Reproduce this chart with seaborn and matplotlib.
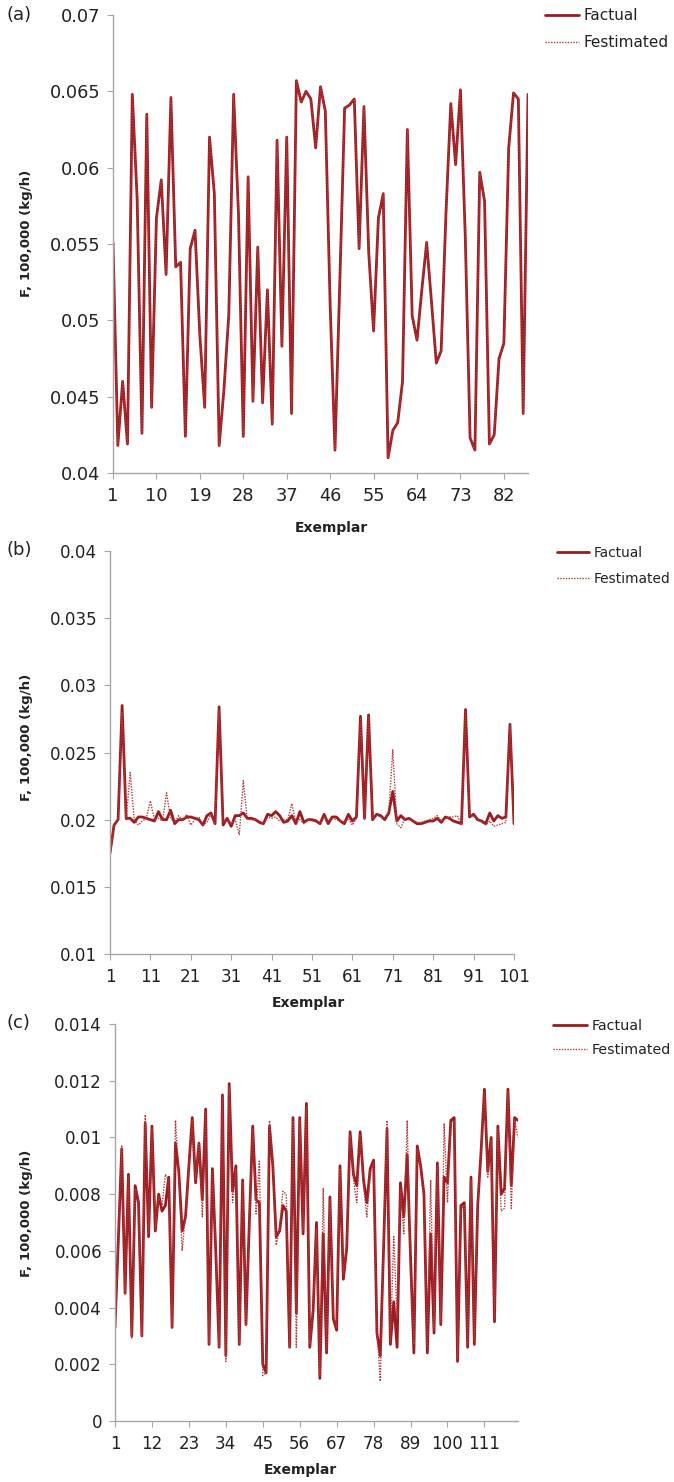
import numpy as np
import pandas as pd
import matplotlib
matplotlib.use("Agg")
import matplotlib.pyplot as plt
import seaborn as sns

sns.set_style("ticks")
plt.rcParams["font.family"] = ["DejaVu Sans"]

# ---------------- data ----------------
a_factual = [0.0551, 0.0418, 0.0460, 0.0419, 0.0648, 0.0580, 0.0426, 0.0635, 0.0443, 0.0567,
             0.0592, 0.0530, 0.0646, 0.0535, 0.0538, 0.0424, 0.0547, 0.0559, 0.0490, 0.0443,
             0.0620, 0.0583, 0.0418, 0.0455, 0.0504, 0.0648, 0.0570, 0.0424, 0.0594, 0.0447,
             0.0548, 0.0446, 0.0520, 0.0432, 0.0618, 0.0483, 0.0620, 0.0439, 0.0657, 0.0643,
             0.0650, 0.0645, 0.0613, 0.0653, 0.0637, 0.0510, 0.0415, 0.0525, 0.0639, 0.0641,
             0.0645, 0.0547, 0.0640, 0.0544, 0.0493, 0.0567, 0.0583, 0.0410, 0.0428, 0.0433,
             0.0460, 0.0625, 0.0503, 0.0487, 0.0520, 0.0551, 0.0512, 0.0472, 0.0480, 0.0570,
             0.0642, 0.0602, 0.0651, 0.0555, 0.0423, 0.0415, 0.0597, 0.0578, 0.0419, 0.0425,
             0.0475, 0.0485, 0.0613, 0.0649, 0.0645, 0.0439, 0.0648]
# in panel (a) the estimated curve lies exactly under the actual one
a_estimated = list(a_factual)
a_xticks = [1, 10, 19, 28, 37, 46, 55, 64, 73, 82]
a_yticks = [0.04, 0.045, 0.05, 0.055, 0.06, 0.065, 0.07]

b_factual = [0.0175, 0.0196, 0.0200, 0.0285, 0.0201, 0.0201, 0.0198, 0.0202, 0.0202, 0.0201,
             0.0200, 0.0199, 0.0206, 0.0200, 0.0200, 0.0207, 0.0197, 0.0200, 0.0200, 0.0202,
             0.0202, 0.0201, 0.0200, 0.0196, 0.0203, 0.0205, 0.0197, 0.0284, 0.0196, 0.0201,
             0.0195, 0.0203, 0.0203, 0.0205, 0.0201, 0.0201, 0.0200, 0.0198, 0.0197, 0.0204,
             0.0203, 0.0206, 0.0203, 0.0198, 0.0199, 0.0203, 0.0197, 0.0206, 0.0198, 0.0200,
             0.0200, 0.0199, 0.0197, 0.0204, 0.0197, 0.0202, 0.0202, 0.0199, 0.0197, 0.0204,
             0.0199, 0.0202, 0.0277, 0.0201, 0.0278, 0.0200, 0.0204, 0.0203, 0.0200, 0.0205,
             0.0221, 0.0199, 0.0203, 0.0200, 0.0201, 0.0199, 0.0197, 0.0197, 0.0198, 0.0199,
             0.0199, 0.0201, 0.0198, 0.0202, 0.0201, 0.0199, 0.0198, 0.0197, 0.0282, 0.0202,
             0.0204, 0.0200, 0.0199, 0.0197, 0.0205, 0.0199, 0.0203, 0.0201, 0.0202, 0.0271,
             0.0197]
b_estimated = [0.0175, 0.0196, 0.0200, 0.0280, 0.0200, 0.0235, 0.0200, 0.0196, 0.0199, 0.0201,
               0.0214, 0.0200, 0.0201, 0.0199, 0.0220, 0.0201, 0.0198, 0.0203, 0.0199, 0.0204,
               0.0196, 0.0200, 0.0202, 0.0196, 0.0198, 0.0204, 0.0197, 0.0282, 0.0198, 0.0200,
               0.0197, 0.0200, 0.0189, 0.0229, 0.0200, 0.0200, 0.0200, 0.0199, 0.0197, 0.0202,
               0.0201, 0.0202, 0.0199, 0.0200, 0.0200, 0.0212, 0.0198, 0.0200, 0.0197, 0.0200,
               0.0199, 0.0200, 0.0197, 0.0202, 0.0199, 0.0201, 0.0200, 0.0199, 0.0198, 0.0201,
               0.0196, 0.0201, 0.0276, 0.0200, 0.0277, 0.0201, 0.0203, 0.0202, 0.0201, 0.0206,
               0.0252, 0.0197, 0.0194, 0.0201, 0.0200, 0.0199, 0.0198, 0.0198, 0.0199, 0.0200,
               0.0201, 0.0203, 0.0199, 0.0201, 0.0202, 0.0202, 0.0203, 0.0196, 0.0281, 0.0203,
               0.0203, 0.0200, 0.0198, 0.0196, 0.0199, 0.0195, 0.0196, 0.0197, 0.0198, 0.0270,
               0.0197]
b_xticks = [1, 11, 21, 31, 41, 51, 61, 71, 81, 91, 101]
b_yticks = [0.01, 0.015, 0.02, 0.025, 0.03, 0.035, 0.04]

c_factual = [0.0033, 0.0064, 0.0096, 0.0045, 0.0087, 0.0030, 0.0083, 0.0077, 0.0030, 0.0105,
             0.0065, 0.0104, 0.0067, 0.0080, 0.0074, 0.0076, 0.0086, 0.0033, 0.0098, 0.0088,
             0.0067, 0.0072, 0.0090, 0.0107, 0.0084, 0.0098, 0.0078, 0.0110, 0.0027, 0.0089,
             0.0060, 0.0026, 0.0115, 0.0023, 0.0119, 0.0081, 0.0090, 0.0027, 0.0085, 0.0034,
             0.0070, 0.0104, 0.0078, 0.0077, 0.0020, 0.0017, 0.0104, 0.0090, 0.0065, 0.0067,
             0.0076, 0.0074, 0.0026, 0.0107, 0.0038, 0.0107, 0.0066, 0.0112, 0.0026, 0.0039,
             0.0070, 0.0015, 0.0066, 0.0024, 0.0079, 0.0036, 0.0032, 0.0090, 0.0050, 0.0061,
             0.0102, 0.0087, 0.0083, 0.0102, 0.0085, 0.0077, 0.0089, 0.0092, 0.0031, 0.0023,
             0.0062, 0.0103, 0.0027, 0.0042, 0.0026, 0.0084, 0.0072, 0.0094, 0.0058, 0.0024,
             0.0097, 0.0090, 0.0080, 0.0024, 0.0066, 0.0031, 0.0091, 0.0034, 0.0086, 0.0084,
             0.0106, 0.0107, 0.0021, 0.0076, 0.0077, 0.0026, 0.0086, 0.0027, 0.0076, 0.0095,
             0.0117, 0.0088, 0.0100, 0.0035, 0.0104, 0.0080, 0.0082, 0.0117, 0.0083, 0.0107,
             0.0106]
c_estimated = [0.0033, 0.0066, 0.0097, 0.0045, 0.0086, 0.0029, 0.0082, 0.0079, 0.0030, 0.0108,
               0.0066, 0.0103, 0.0068, 0.0079, 0.0076, 0.0087, 0.0085, 0.0033, 0.0106, 0.0087,
               0.0060, 0.0073, 0.0091, 0.0106, 0.0085, 0.0098, 0.0072, 0.0109, 0.0027, 0.0088,
               0.0062, 0.0026, 0.0114, 0.0021, 0.0118, 0.0077, 0.0089, 0.0027, 0.0084, 0.0034,
               0.0071, 0.0103, 0.0073, 0.0092, 0.0016, 0.0017, 0.0106, 0.0091, 0.0062, 0.0068,
               0.0081, 0.0080, 0.0026, 0.0106, 0.0026, 0.0106, 0.0067, 0.0111, 0.0027, 0.0041,
               0.0068, 0.0016, 0.0082, 0.0025, 0.0078, 0.0037, 0.0033, 0.0089, 0.0052, 0.0062,
               0.0101, 0.0085, 0.0077, 0.0101, 0.0083, 0.0072, 0.0088, 0.0091, 0.0032, 0.0014,
               0.0063, 0.0106, 0.0028, 0.0065, 0.0036, 0.0082, 0.0066, 0.0106, 0.0052, 0.0027,
               0.0096, 0.0089, 0.0079, 0.0026, 0.0085, 0.0032, 0.0090, 0.0035, 0.0105, 0.0077,
               0.0105, 0.0106, 0.0022, 0.0075, 0.0076, 0.0027, 0.0085, 0.0028, 0.0077, 0.0094,
               0.0116, 0.0086, 0.0099, 0.0036, 0.0103, 0.0074, 0.0075, 0.0116, 0.0075, 0.0106,
               0.0100]
c_xticks = [1, 12, 23, 34, 45, 56, 67, 78, 89, 100, 111]
c_yticks = [0, 0.002, 0.004, 0.006, 0.008, 0.01, 0.012, 0.014]

panel_labels = ["(a)", "(b)", "(c)"]
series_names = ["Factual", "Festimated"]
x_label = "Exemplar"
y_label = "F, 100,000 (kg/h)"

# ---------------- style / layout ----------------
W, H = 674, 1482
RED = "#9b1c20"
RED_EST = "#b5383b"
GREY = "#a6a6a6"

fig = plt.figure(figsize=(W / 100, H / 100), dpi=100)

panels = [
    dict(fact=a_factual, est=a_estimated, xt=a_xticks, yt=a_yticks,
         box=(113, 528, 15, 473), tick_fs=12.8, ylab=(-0.193, 0.524), xlab=(0.525, -0.105),
         plab=(7, 15), leg=(545, 8, 11.0, 2.2, 0.80)),
    dict(fact=b_factual, est=b_estimated, xt=b_xticks, yt=b_yticks,
         box=(110, 514, 551, 954), tick_fs=12.1, ylab=(-0.190, 0.538), xlab=(0.49, -0.104),
         plab=(7, 550), leg=(557, 546, 9.9, 2.3, 0.88)),
    dict(fact=c_factual, est=c_estimated, xt=c_xticks, yt=c_yticks,
         box=(115, 518, 1024, 1421), tick_fs=12.1, ylab=(-0.203, 0.524), xlab=(0.459, -0.106),
         plab=(7, 1023), leg=(553, 1019, 10.3, 2.4, 0.73)),
]

for p, plabel in zip(panels, panel_labels):
    l, r, t, b = p["box"]
    ax = fig.add_axes([l / W, 1 - b / H, (r - l) / W, (b - t) / H])
    n = len(p["fact"])
    x = np.arange(1, n + 1)
    df = pd.DataFrame({"Exemplar": x, "Factual": p["fact"], "Festimated": p["est"]})
    sns.lineplot(data=df, x="Exemplar", y="Factual", ax=ax, color=RED, linewidth=2.0,
                 estimator=None, sort=False, label=series_names[0])
    sns.lineplot(data=df, x="Exemplar", y="Festimated", ax=ax, color=RED_EST, linewidth=1.0,
                 linestyle=(0, (1, 1)), estimator=None, sort=False, label=series_names[1])

    ax.set_xlim(1, n)
    ax.set_ylim(p["yt"][0], p["yt"][-1])
    ax.set_xticks(p["xt"])
    ax.set_xticklabels([str(v) for v in p["xt"]])
    ax.set_yticks(p["yt"])
    ax.set_yticklabels(["{:g}".format(v) for v in p["yt"]])

    for s in ["top", "right"]:
        ax.spines[s].set_visible(False)
    for s in ["left", "bottom"]:
        ax.spines[s].set_color(GREY)
        ax.spines[s].set_linewidth(1.0)
    ax.tick_params(axis="both", direction="out", length=4.3, width=0.8, color=GREY,
                   labelsize=p["tick_fs"], labelcolor="#222222")
    ax.tick_params(axis="y", pad=5)
    ax.tick_params(axis="x", pad=5.5)

    ax.set_xlabel(x_label, fontsize=10, fontweight="bold", color="#222222")
    ax.set_ylabel(y_label, fontsize=9.6, fontweight="bold", color="#222222")
    ax.xaxis.set_label_coords(*p["xlab"])
    ax.yaxis.set_label_coords(*p["ylab"])

    lx, ly, lfs, hl, ls = p["leg"]
    ax.legend(loc="upper left", bbox_to_anchor=(lx / W, 1 - ly / H),
              bbox_transform=fig.transFigure, frameon=False, borderpad=0,
              borderaxespad=0, handlelength=hl, handletextpad=0.33,
              labelspacing=ls, fontsize=lfs, labelcolor="#222222")

    fig.text(p["plab"][0] / W, 1 - p["plab"][1] / H, plabel, fontsize=13,
             ha="left", va="center", color="#222222")

fig.savefig("out.png", dpi=100)
